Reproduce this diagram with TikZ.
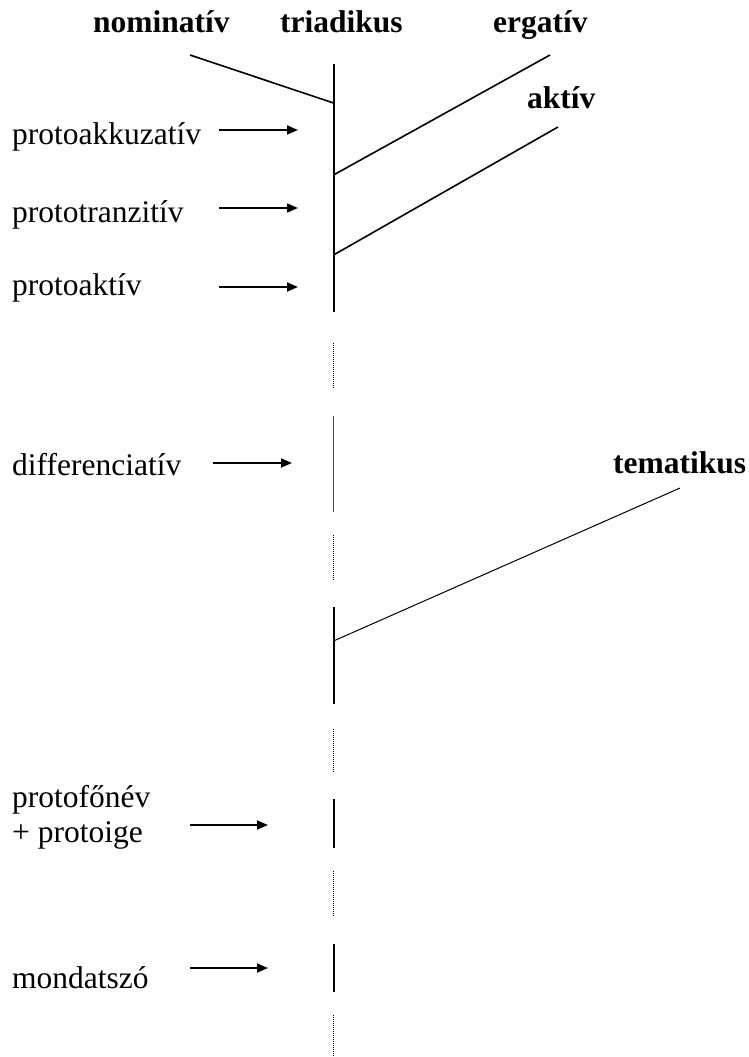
\documentclass[tikz,border=0pt]{standalone}
\usepackage{fontspec}
\setmainfont{Liberation Serif}
\usetikzlibrary{arrows.meta}
\begin{document}
\begin{tikzpicture}[x=1pt,y=-1pt,
  lbl/.style={anchor=base west,inner sep=0pt,font=\fontsize{31.5}{35}\selectfont},
  blbl/.style={lbl,font=\fontsize{31.5}{35}\selectfont\bfseries},
  axis/.style={line width=2pt},
  branch/.style={line width=1.6pt},
  thinline/.style={line width=1pt},
  dots/.style={line width=1.1pt,dash pattern=on 1pt off 1pt,black},
  arr/.style={line width=1.7pt,-{Triangle[length=11pt,width=9pt]}}]
\useasboundingbox (0,0) rectangle (748,1057);
% headings
\node[blbl] (nom) at (93,33) {nominatív};
\node[blbl] (tri) at (280,33) {triadikus};
\node[blbl] (erg) at (493,33) {ergatív};
\node[blbl] (akt) at (527,108) {aktív};
\node[blbl] (tem) at (613,473) {tematikus};
% left labels
\node[lbl] (pak) at (12,144) {protoakkuzatív};
\node[lbl] (ptr) at (12,222) {prototranzitív};
\node[lbl] (pat) at (12,295) {protoaktív};
\node[lbl] (dif) at (12,475) {differenciatív};
\node[lbl] (pfn) at (12,807) {protofőnév};
\node[lbl] (pig) at (12,842) {+ protoige};
\node[lbl] (msz) at (12,988) {mondatszó};
% axis coordinates
\coordinate (a1) at (333.5,64);
\coordinate (a2) at (333.5,312);
\coordinate (d1a) at (333.5,343);
\coordinate (d1b) at (333.5,388);
\coordinate (g1a) at (333.5,416);
\coordinate (g1b) at (333.5,512);
\coordinate (d2a) at (333.5,535);
\coordinate (d2b) at (333.5,580);
\coordinate (s2a) at (333.5,607);
\coordinate (s2b) at (333.5,704);
\coordinate (d3a) at (333.5,729);
\coordinate (d3b) at (333.5,773);
\coordinate (s3a) at (333.5,799);
\coordinate (s3b) at (333.5,848);
\coordinate (d4a) at (333.5,871);
\coordinate (d4b) at (333.5,916);
\coordinate (s4a) at (333.5,944);
\coordinate (s4b) at (333.5,992);
\coordinate (d5a) at (333.5,1015);
\coordinate (d5b) at (333.5,1057);
% branch coordinates
\coordinate (nomS) at (190,55);
\coordinate (nomE) at (333.5,103);
\coordinate (ergS) at (333.5,175);
\coordinate (ergE) at (550,55);
\coordinate (aktS) at (333.5,255);
\coordinate (aktE) at (558,127);
\coordinate (temS) at (333.5,641);
\coordinate (temE) at (680,488);
% arrow coordinates
\coordinate (pakS) at (219,130); \coordinate (pakE) at (298,130);
\coordinate (ptrS) at (219,208); \coordinate (ptrE) at (298,208);
\coordinate (patS) at (219,287); \coordinate (patE) at (298,287);
\coordinate (difS) at (213,463); \coordinate (difE) at (292,463);
\coordinate (pfnS) at (190,825); \coordinate (pfnE) at (268,825);
\coordinate (mszS) at (190,968); \coordinate (mszE) at (268,968);
% axis
\draw[axis] (a1) -- (a2);
\draw[dots] (d1a) -- (d1b);
\draw[thinline,black!70] (g1a) -- (g1b);
\draw[dots] (d2a) -- (d2b);
\draw[axis] (s2a) -- (s2b);
\draw[dots] (d3a) -- (d3b);
\draw[axis] (s3a) -- (s3b);
\draw[dots] (d4a) -- (d4b);
\draw[axis] (s4a) -- (s4b);
\draw[dots] (d5a) -- (d5b);
% branches
\draw[branch] (nomS) -- (nomE);
\draw[branch] (ergS) -- (ergE);
\draw[branch] (aktS) -- (aktE);
\draw[thinline] (temS) -- (temE);
% arrows
\draw[arr] (pakS) -- (pakE);
\draw[arr] (ptrS) -- (ptrE);
\draw[arr] (patS) -- (patE);
\draw[arr] (difS) -- (difE);
\draw[arr] (pfnS) -- (pfnE);
\draw[arr] (mszS) -- (mszE);
\end{tikzpicture}
\end{document}
